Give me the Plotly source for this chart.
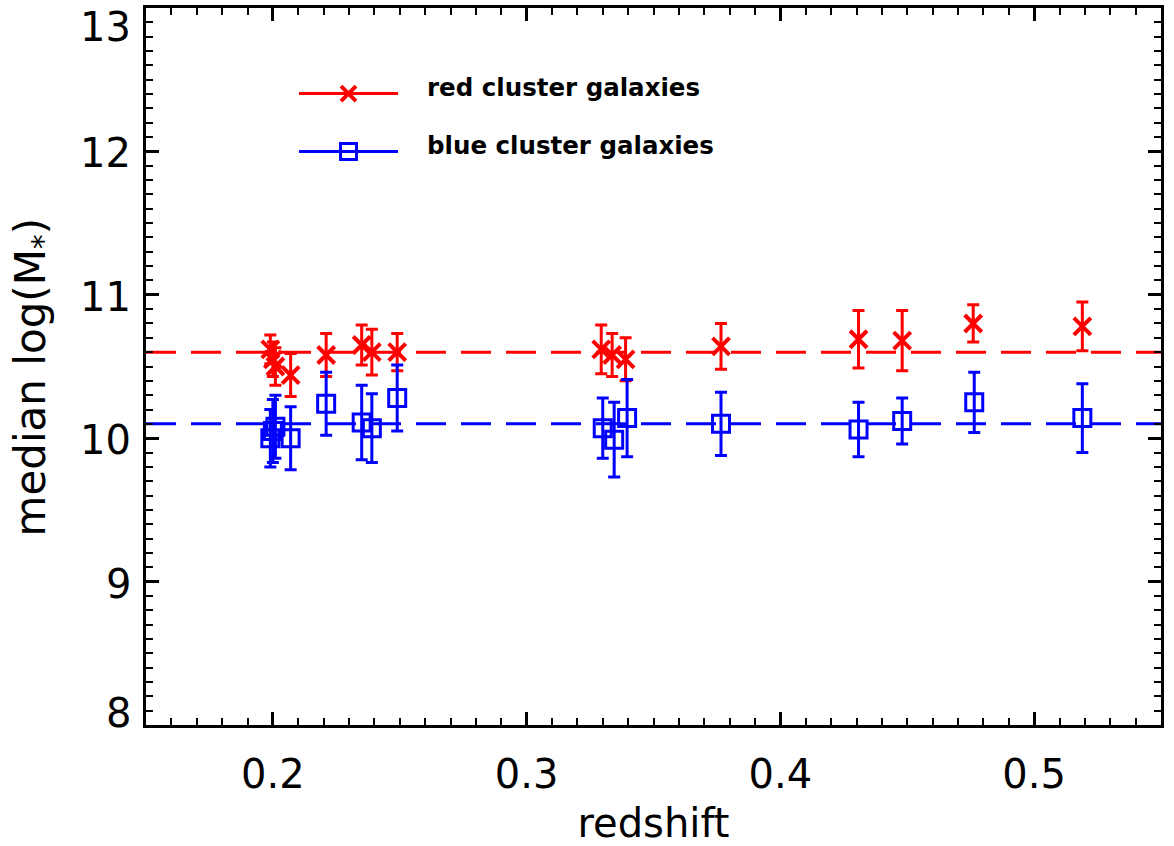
import plotly.graph_objects as go

# Red cluster galaxies
red_z = [0.199, 0.200, 0.201, 0.207, 0.221, 0.235, 0.239, 0.249,
         0.3294, 0.3337, 0.339, 0.3766, 0.4308, 0.448, 0.476, 0.519]
red_m = [10.62, 10.55, 10.50, 10.44, 10.58, 10.65, 10.60, 10.60,
         10.62, 10.58, 10.55, 10.64, 10.69, 10.68, 10.80, 10.78]
red_err = [0.10, 0.12, 0.13, 0.15, 0.15, 0.14, 0.16, 0.13,
           0.17, 0.15, 0.15, 0.16, 0.20, 0.21, 0.13, 0.17]

# Blue cluster galaxies
blue_z = [0.199, 0.200, 0.201, 0.207, 0.221, 0.235, 0.239, 0.249,
          0.330, 0.3345, 0.3396, 0.3766, 0.4308, 0.448, 0.4764, 0.519]
blue_m = [10.00, 10.05, 10.08, 10.00, 10.24, 10.11, 10.07, 10.28,
          10.07, 9.99, 10.14, 10.10, 10.06, 10.12, 10.25, 10.14]
blue_err = [0.20, 0.22, 0.22, 0.22, 0.22, 0.26, 0.24, 0.23,
            0.21, 0.26, 0.27, 0.22, 0.19, 0.16, 0.21, 0.24]

red_median = 10.6
blue_median = 10.1

x_range = [0.15, 0.55]
y_range = [8, 13]
x_ticks = [0.2, 0.3, 0.4, 0.5]
x_ticktext = ["0.2", "0.3", "0.4", "0.5"]
y_ticks = [8, 9, 10, 11, 12, 13]
y_ticktext = ["8", "9", "10", "11", "12", "13"]

legend_labels = ["red cluster galaxies", "blue cluster galaxies"]

RED = "#ff0000"
BLUE = "#0000ff"
FONT = "DejaVu Sans"

fig = go.Figure()

# median dashed lines
fig.add_hline(y=red_median, line=dict(color=RED, width=3, dash="30px,15px"), layer="below")
fig.add_hline(y=blue_median, line=dict(color=BLUE, width=3, dash="30px,15px"), layer="below")

fig.add_trace(go.Scatter(
    x=red_z, y=red_m, mode="markers",
    marker=dict(symbol="x-thin", size=17, color=RED, line=dict(color=RED, width=4)),
    error_y=dict(type="data", array=red_err, color=RED, thickness=3, width=6),
    showlegend=False, cliponaxis=False))

fig.add_trace(go.Scatter(
    x=blue_z, y=blue_m, mode="markers",
    marker=dict(symbol="square-open", size=17, color=BLUE, line=dict(color=BLUE, width=3)),
    error_y=dict(type="data", array=blue_err, color=BLUE, thickness=3, width=6),
    showlegend=False, cliponaxis=False))

# Legend (manual) on an overlay axis spanning the plot area
leg_y = [0.8806, 0.800]
leg_col = [RED, BLUE]
leg_sym = ["x-thin", "square-open"]
leg_size = [15, 16]
leg_mw = [4, 3]
for yy, col, sym, sz, mw, txt in zip(leg_y, leg_col, leg_sym, leg_size, leg_mw, legend_labels):
    fig.add_trace(go.Scatter(x=[0.1507, 0.2483], y=[yy, yy], mode="lines",
                             line=dict(color=col, width=3), xaxis="x2", yaxis="y2",
                             showlegend=False, hoverinfo="skip"))
    fig.add_trace(go.Scatter(x=[0.1995], y=[yy], mode="markers",
                             marker=dict(symbol=sym, size=sz, color=col, line=dict(color=col, width=mw)),
                             xaxis="x2", yaxis="y2", showlegend=False, hoverinfo="skip"))
    fig.add_annotation(x=0.2749, y=yy, xref="x2", yref="y2", text="<b>" + txt + "</b>",
                       showarrow=False, xanchor="left", yanchor="middle", yshift=6,
                       font=dict(family=FONT, size=24.5, color="black"))

# y tick labels as annotations (top/bottom labels kept inside the frame like the reference)
for v, t in zip(y_ticks, y_ticktext):
    if v == y_range[1]:
        ya, ys = "top", 5
    elif v == y_range[0]:
        ya, ys = "bottom", -12
    else:
        ya, ys = "middle", -2
    fig.add_annotation(x=0, xref="paper", y=v, yref="y", text=t, showarrow=False,
                       xanchor="right", yanchor=ya, xshift=-14, yshift=ys, borderpad=0,
                       font=dict(family=FONT, size=40, color="black"))

# y axis title
fig.add_annotation(x=0, xref="paper", y=0.4847, yref="paper", text="median log(M<sub>*</sub>)",
                   showarrow=False, textangle=-90, xanchor="center", yanchor="middle",
                   xshift=-113, font=dict(family=FONT, size=42, color="black"))

axis_common = dict(
    showgrid=False, zeroline=False, showline=True, linecolor="black", linewidth=2.5,
    mirror="allticks", ticks="inside", tickwidth=2.5, tickcolor="black",
)

fig.update_layout(
    width=1174, height=846,
    margin=dict(l=146, r=13, t=5, b=121),
    plot_bgcolor="white", paper_bgcolor="white",
    xaxis=dict(range=x_range, tickvals=x_ticks, ticktext=x_ticktext,
               ticklen=13,
               tickfont=dict(family=FONT, size=40, color="black"),
               minor=dict(dtick=0.01, tick0=0.15, ticks="inside", ticklen=7, tickwidth=2, tickcolor="black"),
               title=dict(text="redshift", font=dict(family=FONT, size=40, color="black"), standoff=15),
               ticklabelstandoff=12,
               **axis_common),
    yaxis=dict(range=y_range, tickvals=y_ticks, ticklen=13, showticklabels=False,
               minor=dict(dtick=0.1, tick0=8, ticks="inside", ticklen=7, tickwidth=2, tickcolor="black"),
               **axis_common),
    xaxis2=dict(range=[0, 1], overlaying="x", visible=False, fixedrange=True),
    yaxis2=dict(range=[0, 1], overlaying="y", visible=False, fixedrange=True),
)

fig.write_html("out.html")
